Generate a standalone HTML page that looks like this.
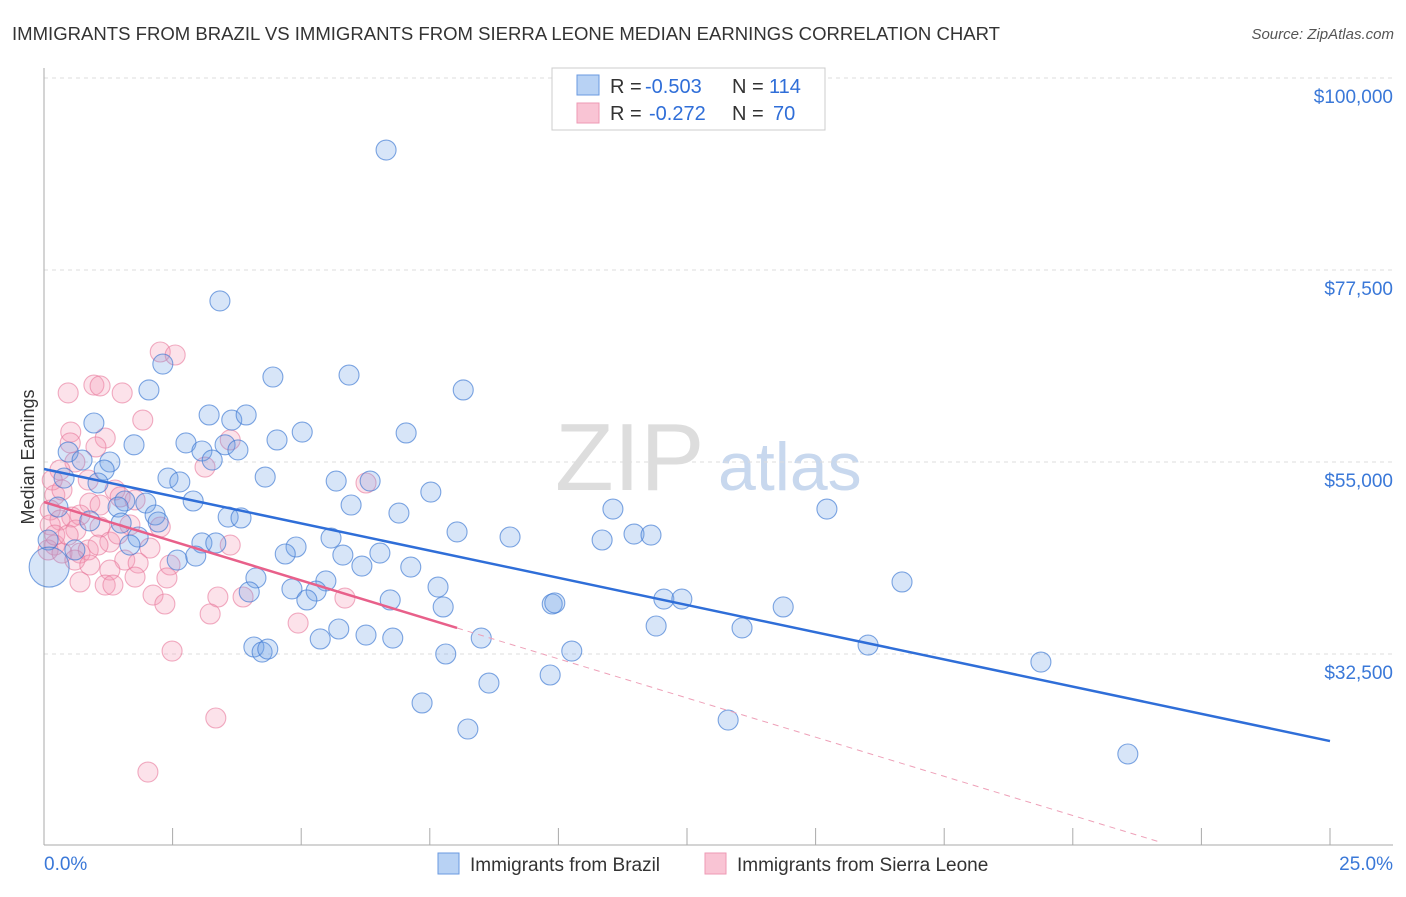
<!DOCTYPE html>
<html><head><meta charset="utf-8"><style>
body{margin:0;background:#fff;font-family:"Liberation Sans",sans-serif;}
svg text{font-family:"Liberation Sans",sans-serif;}
</style></head><body>
<svg id="chart" width="1406" height="892" xmlns="http://www.w3.org/2000/svg">
<text x="12" y="40" font-size="18" fill="#333" textLength="988" lengthAdjust="spacingAndGlyphs">IMMIGRANTS FROM BRAZIL VS IMMIGRANTS FROM SIERRA LEONE MEDIAN EARNINGS CORRELATION CHART</text>
<text x="1394" y="39" font-size="15" fill="#555" font-style="italic" text-anchor="end">Source: ZipAtlas.com</text>
<text transform="translate(34,457) rotate(-90)" font-size="18" fill="#333" text-anchor="middle">Median Earnings</text>
<g>
<text x="555" y="490" font-size="96" fill="#ddd" font-family="Liberation Serif">ZIP</text>
<text x="718" y="490" font-size="68" fill="#c8d8ee">atlas</text>
</g>
<g id="grid"></g>
<g id="axes"></g>
<g id="pts"></g>
<g id="trend"></g>
<g>
<rect x="552" y="68" width="273" height="62" fill="#fff" stroke="#ccc"/>
<rect x="577" y="75" width="22" height="20" fill="#b8d2f4" stroke="#6a9ae0"/>
<rect x="577" y="103" width="22" height="20" fill="#f9c4d4" stroke="#ee9ab4"/>
<text x="610" y="93" font-size="20" fill="#333">R =</text>
<text x="645" y="93" font-size="20" fill="#2f6ed8">-0.503</text>
<text x="732" y="93" font-size="20" fill="#333">N =</text>
<text x="769" y="93" font-size="20" fill="#2f6ed8">114</text>
<text x="610" y="120" font-size="20" fill="#333">R =</text>
<text x="649" y="120" font-size="20" fill="#2f6ed8">-0.272</text>
<text x="732" y="120" font-size="20" fill="#333">N =</text>
<text x="773" y="120" font-size="20" fill="#2f6ed8">70</text>
</g>
<g>
<rect x="438" y="853" width="21" height="21" fill="#b8d2f4" stroke="#6a9ae0"/>
<text x="470" y="871" font-size="19" fill="#333">Immigrants from Brazil</text>
<rect x="705" y="853" width="21" height="21" fill="#f9c4d4" stroke="#ee9ab4"/>
<text x="737" y="871" font-size="19" fill="#333">Immigrants from Sierra Leone</text>
</g>
</svg>
<script>
const yTicks=[100000,77500,55000,32500];
const yTickLabels=["$100,000","$77,500","$55,000","$32,500"];
const xTicks=[0,2.5,5,7.5,10,12.5,15,17.5,20,22.5,25];
const blueX=[6.65,3.42,2.31,2.04,4.45,5.93,8.15,0.97,3.21,3.65,3.93,5.02,7.04,1.75,2.76,3.07,3.52,3.77,4.53,0.47,0.74,1.28,1.17,3.27,0.39,1.05,2.41,2.64,4.30,5.68,6.34,7.52,2.90,1.57,1.98,1.44,0.27,5.97,6.90,11.06,15.22,3.58,3.83,2.16,2.22,1.50,0.89,1.83,1.67,3.07,3.34,4.90,5.58,8.03,9.06,10.85,11.47,11.80,4.69,2.59,2.95,5.81,6.18,6.53,7.13,4.12,5.48,7.66,3.99,4.82,5.29,5.11,6.73,7.76,9.88,9.93,12.05,12.40,14.37,16.68,11.90,13.57,5.73,6.26,6.78,5.37,8.50,4.08,4.24,4.35,7.81,10.26,16.02,19.38,8.65,9.84,7.35,13.30,8.24,21.07,0.60,0.08,0.10];
const blueY=[91.56,73.87,66.48,63.44,64.96,65.19,63.44,59.57,60.51,59.92,60.51,58.51,58.40,57.01,57.23,56.29,57.01,56.41,57.58,56.17,55.23,55.0,54.06,55.23,53.12,52.54,53.12,52.66,53.24,52.77,52.77,51.48,50.43,50.43,50.19,49.72,49.72,49.96,49.02,49.49,49.49,48.55,48.44,48.79,47.97,47.85,48.09,46.21,45.27,45.51,45.51,45.04,46.09,46.80,46.21,45.86,46.56,46.44,44.22,43.51,43.98,44.10,42.81,44.33,42.69,41.41,41.06,40.35,39.77,40.12,39.88,38.83,38.83,38.01,38.36,38.48,38.94,38.94,38.01,40.94,35.78,35.55,35.43,34.72,34.37,34.26,34.37,33.32,32.73,33.08,32.50,32.85,33.55,31.56,29.10,30.04,26.76,24.76,23.71,20.78,44.69,45.86,42.69];
const blueBig=[102];
const pinkX=[2.26,2.55,0.97,1.09,1.52,0.47,1.92,0.52,1.19,0.51,1.01,3.13,0.60,0.31,6.26,0.86,1.38,0.21,1.48,1.77,0.89,1.09,0.12,0.70,0.54,0.31,0.12,1.67,0.62,1.09,2.26,1.28,0.21,0.08,0.35,0.70,0.86,2.06,3.62,1.57,1.83,0.60,0.89,2.45,1.28,1.77,2.39,0.70,1.19,1.34,3.38,3.87,2.12,5.85,2.35,3.23,4.94,2.49,3.34,2.02,0.16,0.35,0.21,1.44,0.47,1.05,3.62];
const pinkY=[67.89,67.54,64.02,63.91,63.09,63.09,59.92,58.51,57.81,57.23,56.76,54.41,55.0,54.06,52.54,52.89,51.72,51.13,50.90,50.55,50.19,49.96,49.37,48.79,48.55,48.20,47.62,47.62,47.03,47.38,47.38,45.62,45.27,44.69,44.33,44.33,44.69,44.92,45.27,43.51,43.16,43.51,42.93,42.93,42.34,41.52,41.41,40.94,40.58,40.58,39.18,39.18,39.41,39.06,38.36,37.19,36.13,32.85,25.0,18.67,52.89,51.72,46.44,46.56,46.44,45.27,57.58];
const blueTrend=[[0,54.18],[25,22.30]];
const pinkTrendSolid=[[0,50.31],[8.03,35.55]];
const pinkTrendDash=[[8.03,35.55],[21.69,10.47]];
const NS="http://www.w3.org/2000/svg";
const X=v=>44+v/25*1286;
const Y=v=>78+(100-v)/22.5*192;
const Yd=v=>78+(100000-v)/22500*192;
function mk(t,a,p){const e=document.createElementNS(NS,t);for(const k in a)e.setAttribute(k,a[k]);p.appendChild(e);return e;}
const grid=document.getElementById('grid'),axes=document.getElementById('axes'),pts=document.getElementById('pts'),tr=document.getElementById('trend');
yTicks.forEach((t,i)=>{
 const l=mk('line',{x1:44,x2:1393,y1:Yd(t),y2:Yd(t),stroke:'#ddd','stroke-dasharray':'4,4'},grid);
 
 
 const tx=mk('text',{x:1393,y:Yd(t)+25,'font-size':19,fill:'#3a78d8','text-anchor':'end'},axes);
 tx.textContent=yTickLabels[i];
 
 
});
const ya=mk('line',{x1:44,x2:44,y1:68,y2:845,stroke:'#aaa'},axes);


const xa=mk('line',{x1:44,x2:1393,y1:845,y2:845,stroke:'#aaa'},axes);


xTicks.forEach(t=>{
 const l=mk('line',{x1:X(t),x2:X(t),y1:828,y2:845,stroke:'#aaa'},axes);
 
 
});
const x0=mk('text',{x:44,y:870,'font-size':19,fill:'#3a78d8'},axes);x0.textContent='0.0%';


const x1=mk('text',{x:1393,y:870,'font-size':19,fill:'#3a78d8','text-anchor':'end'},axes);x1.textContent='25.0%';


pinkX.forEach((v,i)=>{
 const c=mk('circle',{cx:X(v),cy:Y(pinkY[i]),r:10,fill:'rgba(244,150,180,0.28)',stroke:'rgba(232,120,155,0.6)','stroke-width':1.1},pts);
 
 
});
blueX.forEach((v,i)=>{
 const r=blueBig.includes(i)?20:10;
 const c=mk('circle',{cx:X(v),cy:Y(blueY[i]),r:r,fill:'rgba(110,160,230,0.28)',stroke:'rgba(60,120,210,0.65)','stroke-width':1.1},pts);
 
 
});
const bt=mk('line',{x1:X(blueTrend[0][0]),y1:Y(blueTrend[0][1]),x2:X(blueTrend[1][0]),y2:Y(blueTrend[1][1]),stroke:'#2f6ed8','stroke-width':2.5},tr);


const pt=mk('line',{x1:X(pinkTrendSolid[0][0]),y1:Y(pinkTrendSolid[0][1]),x2:X(pinkTrendSolid[1][0]),y2:Y(pinkTrendSolid[1][1]),stroke:'#e8608a','stroke-width':2.5},tr);


const pd=mk('line',{x1:X(pinkTrendDash[0][0]),y1:Y(pinkTrendDash[0][1]),x2:X(pinkTrendDash[1][0]),y2:Y(pinkTrendDash[1][1]),stroke:'#eea0b8','stroke-width':1,'stroke-dasharray':'6,5'},tr);


</script>
</body></html>
